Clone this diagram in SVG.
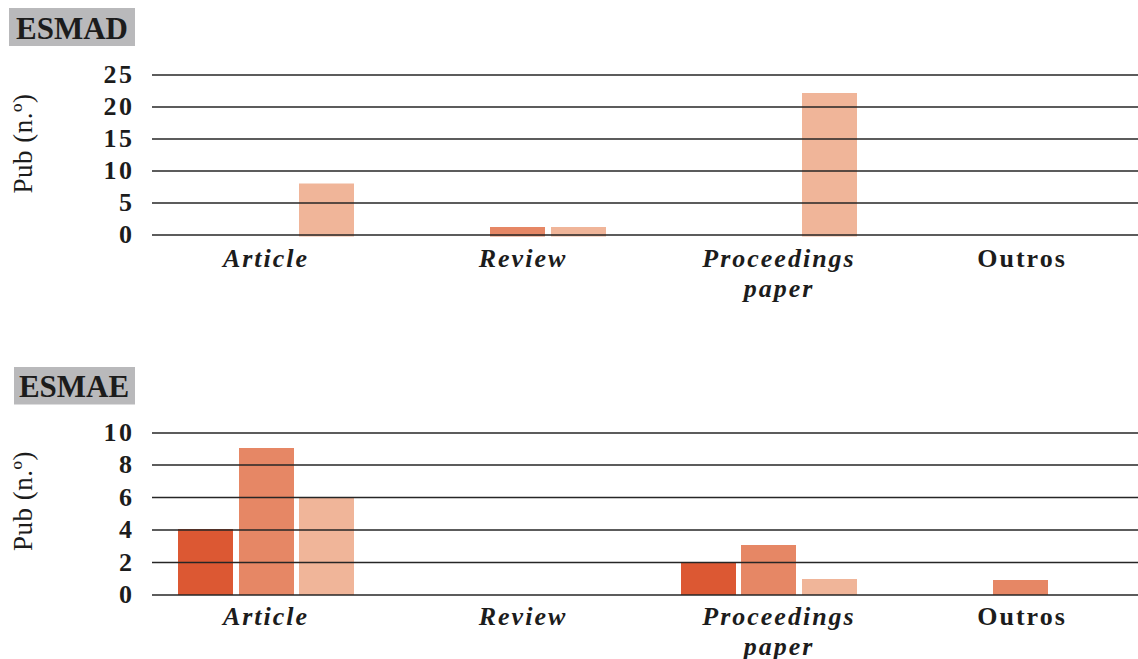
<svg xmlns="http://www.w3.org/2000/svg" width="1138" height="659" viewBox="0 0 1138 659">
<style>
.tbox{fill:#b9b9bb}
.ttl{font-family:"Liberation Serif","Times New Roman",serif;font-weight:bold;font-size:31px;fill:#1c1c1c}
.num{font-family:"Liberation Serif","Times New Roman",serif;font-weight:bold;font-size:26px;fill:#1c1c1c;text-anchor:end;letter-spacing:2.5px}
.cat{font-family:"Liberation Serif","Times New Roman",serif;font-weight:bold;font-style:italic;font-size:26px;fill:#1c1c1c;text-anchor:middle;letter-spacing:2px}
.catn{font-family:"Liberation Serif","Times New Roman",serif;font-weight:bold;font-size:26px;fill:#1c1c1c;text-anchor:middle;letter-spacing:2px}
.ylab{font-family:"Liberation Serif","Times New Roman",serif;font-size:27px;fill:#1c1c1c;text-anchor:middle;letter-spacing:0.5px}
.grid{stroke:#262626;stroke-width:1.3;fill:none}
.s1{fill:#dc5833}
.s2{fill:#e68765}
.s3{fill:#f0b599}
</style>

<g id="chart-esmad">
  <g id="title-esmad">
    <rect class="tbox" x="9" y="8" width="126" height="38"/>
    <text class="ttl" x="72" y="38.5" text-anchor="middle">ESMAD</text>
  </g>
  <text class="ylab" transform="translate(32,143.5) rotate(-90)">Pub (n.º)</text>
  <g id="bars-esmad">
    <rect class="s3" x="299" y="183.5" width="55" height="53"/>
    <rect class="s2" x="490" y="227" width="55" height="9.5"/>
    <rect class="s3" x="551" y="227" width="55" height="9.5"/>
    <rect class="s3" x="802" y="93" width="55" height="143.5"/>
  </g>
  <g id="grid-esmad">
    <line class="grid" x1="152" y1="75" x2="1138" y2="75"/>
    <line class="grid" x1="152" y1="107" x2="1138" y2="107"/>
    <line class="grid" x1="152" y1="139" x2="1138" y2="139"/>
    <line class="grid" x1="152" y1="171" x2="1138" y2="171"/>
    <line class="grid" x1="152" y1="203" x2="1138" y2="203"/>
    <line class="grid" x1="152" y1="235" x2="1138" y2="235"/>
  </g>
  <g id="yaxis-esmad">
    <text class="num" x="134.5" y="83">25</text>
    <text class="num" x="134.5" y="115">20</text>
    <text class="num" x="134.5" y="147">15</text>
    <text class="num" x="134.5" y="179">10</text>
    <text class="num" x="134.5" y="211">5</text>
    <text class="num" x="134.5" y="243">0</text>
  </g>
  <g id="xaxis-esmad">
    <text class="cat" x="266" y="267">Article</text>
    <text class="cat" x="523" y="267">Review</text>
    <text class="cat" x="779" y="267">Proceedings</text>
    <text class="cat" x="779" y="297">paper</text>
    <text class="catn" x="1022" y="267">Outros</text>
  </g>
</g>

<g id="chart-esmae">
  <g id="title-esmae">
    <rect class="tbox" x="14" y="367" width="121" height="37.5"/>
    <text class="ttl" x="74" y="397" text-anchor="middle">ESMAE</text>
  </g>
  <text class="ylab" transform="translate(32,501) rotate(-90)">Pub (n.º)</text>
  <g id="bars-esmae">
    <rect class="s1" x="178" y="529" width="55" height="66"/>
    <rect class="s2" x="239" y="448" width="55" height="147"/>
    <rect class="s3" x="299" y="497" width="55" height="98"/>
    <rect class="s1" x="681" y="562" width="55" height="33"/>
    <rect class="s2" x="741" y="545" width="55" height="50"/>
    <rect class="s3" x="802" y="579" width="55" height="16"/>
    <rect class="s2" x="993" y="580" width="55" height="15"/>
  </g>
  <g id="grid-esmae">
    <line class="grid" x1="152" y1="433" x2="1138" y2="433"/>
    <line class="grid" x1="152" y1="465" x2="1138" y2="465"/>
    <line class="grid" x1="152" y1="497.5" x2="1138" y2="497.5"/>
    <line class="grid" x1="152" y1="530" x2="1138" y2="530"/>
    <line class="grid" x1="152" y1="562.5" x2="1138" y2="562.5"/>
    <line class="grid" x1="152" y1="595" x2="1138" y2="595"/>
  </g>
  <g id="yaxis-esmae">
    <text class="num" x="134.5" y="441">10</text>
    <text class="num" x="134.5" y="473">8</text>
    <text class="num" x="134.5" y="506">6</text>
    <text class="num" x="134.5" y="538">4</text>
    <text class="num" x="134.5" y="571">2</text>
    <text class="num" x="134.5" y="603">0</text>
  </g>
  <g id="xaxis-esmae">
    <text class="cat" x="266" y="625">Article</text>
    <text class="cat" x="523" y="625">Review</text>
    <text class="cat" x="779" y="625">Proceedings</text>
    <text class="cat" x="779" y="655">paper</text>
    <text class="catn" x="1022" y="625">Outros</text>
  </g>
</g>
</svg>
